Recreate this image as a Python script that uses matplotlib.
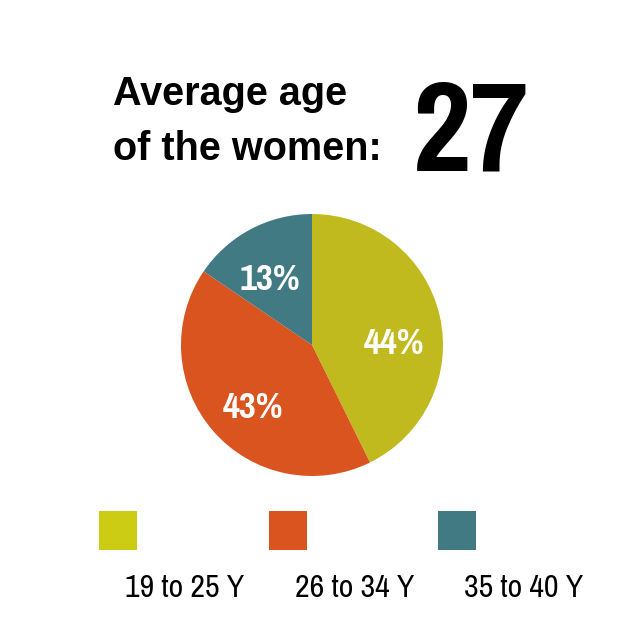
import numpy as np
import matplotlib.pyplot as plt

# age groups of the women, share of each slice as drawn and the printed labels
groups = ["19 to 25 Y", "26 to 34 Y", "35 to 40 Y"]
shares = [42.7, 41.8, 15.5]
pct_labels = ["44%", "43%", "13%"]
average_age = 27

pie_colors = ["#c0ba1f", "#d9541f", "#417a82"]
legend_colors = ["#cccc14", "#d9541f", "#417a82"]

narrow = ["Pragati Narrow", "DejaVu Sans"]

W, H = 642, 636
fig = plt.figure(figsize=(W / 100, H / 100), dpi=100)
fig.patch.set_facecolor("white")

def px(x, y):
  return x / W, 1 - y / H

# title
fig.text(*px(113, 105), "Average age", family="Liberation Sans", weight="bold",
         fontsize=28.5, va="baseline", ha="left")
fig.text(*px(113, 160), "of the women:", family="Liberation Sans", weight="bold",
         fontsize=28.5, va="baseline", ha="left")
fig.text(*px(413, 170), str(average_age), family=narrow, weight="bold",
         fontsize=100, va="baseline", ha="left")

# pie
cx, cy, r = 312, 345, 131
ax = fig.add_axes([(cx - r) / W, (H - cy - r) / H, 2 * r / W, 2 * r / H])
ax.pie(shares, colors=pie_colors, startangle=90, counterclock=False, radius=1,
       wedgeprops=dict(linewidth=0))
ax.set_xlim(-1, 1)
ax.set_ylim(-1, 1)
ax.axis("off")

label_pos = [(0.63, 0.015), (-0.45, -0.48), (-0.32, 0.50)]
for (lx, ly), t in zip(label_pos, pct_labels):
  ax.text(lx, ly, t, color="white", family=narrow, weight="bold", fontsize=29,
          ha="center", va="center")

# legend: squares with labels underneath
lax = fig.add_axes([0, 0, 1, 1])
lax.set_xlim(0, W)
lax.set_ylim(H, 0)
lax.axis("off")
xs = 118 + 169.5 * np.arange(len(groups))
lax.bar(xs, 39, width=38, bottom=511, color=legend_colors, linewidth=0)
for x, g in zip(xs, groups):
  lax.text(x + 67, 597, g, family=narrow, fontsize=25, ha="center", va="baseline")

fig.savefig("out.png", dpi=100, facecolor="white")
